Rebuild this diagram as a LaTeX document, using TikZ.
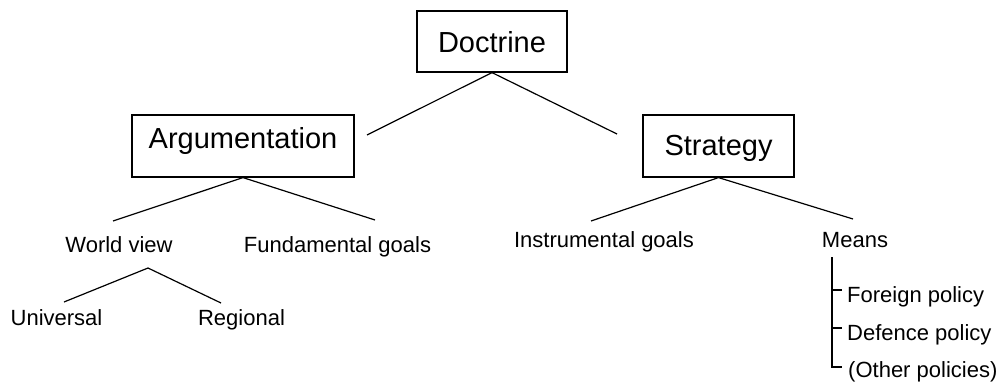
\documentclass[tikz,border=0pt]{standalone}
\usepackage{fontspec}
\setmainfont{Liberation Sans}
\begin{document}
\begin{tikzpicture}[x=1pt, y=-1pt,
    box/.style={draw, rectangle, line width=1.2pt, inner sep=0pt, font=\fontsize{29}{34}\selectfont},
    item/.style={inner sep=0pt, anchor=base, font=\fontsize{22}{26}\selectfont},
    link/.style={line width=1.2pt}]
    \useasboundingbox (0,0) rectangle (1003,385);

    % Nodes
    \node[box, minimum width=150pt, text height=42pt, text depth=19pt] (doctrine) at (492,41.5) {Doctrine};
    \node[box, minimum width=222pt, text height=33pt, text depth=29pt] (argu) at (243,146) {Argumentation};
    \node[box, minimum width=151pt, text height=40pt, text depth=22pt] (strategy) at (718.5,146) {Strategy};

    \node[item] (worldview) at (119,252) {World view};
    \node[item] (fundgoals) at (337.5,252) {Fundamental goals};
    \node[item] (universal) at (56.5,325) {Universal};
    \node[item] (regional) at (241.5,325) {Regional};
    \node[item] (instrgoals) at (604,247) {Instrumental goals};
    \node[item] (means) at (855,247) {Means};
    \node[item, anchor=base west] (foreign) at (847,302) {Foreign policy};
    \node[item, anchor=base west] (defence) at (847,340) {Defence policy};
    \node[item, anchor=base west] (other) at (848,377) {(Other policies)};

    % Free ends
    \coordinate (doc-l) at (367,135);
    \coordinate (doc-r) at (617,134);
    \coordinate (argu-l) at (113,221);
    \coordinate (argu-r) at (375,220);
    \coordinate (strat-l) at (591,221);
    \coordinate (strat-r) at (853,219);
    \coordinate (wv-top) at (148,268);
    \coordinate (wv-l) at (64,302);
    \coordinate (wv-r) at (221,303);
    \coordinate (means-top) at (832,257);
    \coordinate (tick-foreign) at (842,290);
    \coordinate (tick-defence) at (842,328);
    \coordinate (tick-other) at (842,367);

    % Lines
    \draw[link] (doctrine.south) -- (doc-l);
    \draw[link] (doctrine.south) -- (doc-r);
    \draw[link] (argu.south) -- (argu-l);
    \draw[link] (argu.south) -- (argu-r);
    \draw[link] (strategy.south) -- (strat-l);
    \draw[link] (strategy.south) -- (strat-r);
    \draw[link] (wv-top) -- (wv-l);
    \draw[link] (wv-top) -- (wv-r);
    \draw[link] (means-top) |- (tick-other);
    \draw[link] (means-top |- tick-foreign) -- (tick-foreign);
    \draw[link] (means-top |- tick-defence) -- (tick-defence);
\end{tikzpicture}
\end{document}
